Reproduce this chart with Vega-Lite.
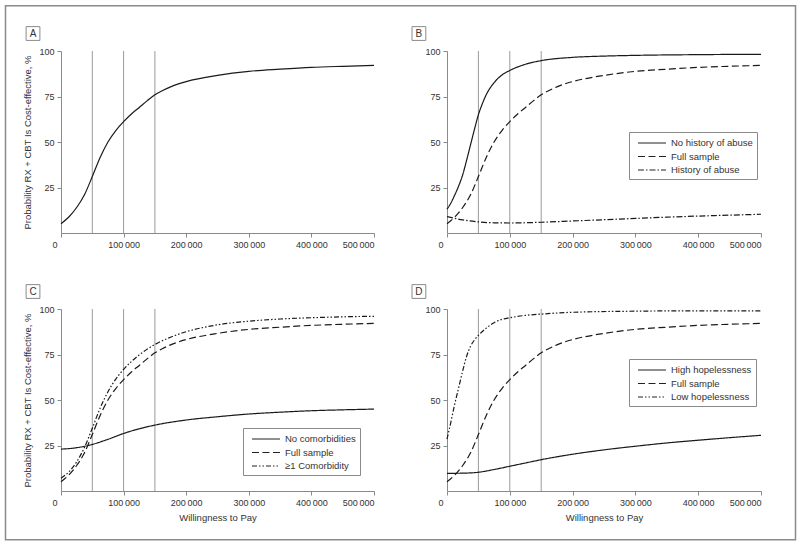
{
  "$schema": "https://vega.github.io/schema/vega-lite/v6.json",
  "padding": {"left": 4, "top": 4, "right": 0, "bottom": 0},
  "background": "white",
  "columns": 2,
  "bounds": "flush",
  "spacing": {"row": 76, "column": 73},
  "resolve": {"scale": {"strokeDash": "independent"}, "legend": {"strokeDash": "independent"}},
  "config": {
    "font": "Liberation Sans",
    "view": {"stroke": null},
    "axis": {"domainColor": "#8a8a8a", "tickColor": "#8a8a8a", "labelColor": "#333333", "labelFontSize": 9, "titleFontSize": 9.5, "titleFontWeight": "normal", "titleColor": "#333333", "grid": false, "tickSize": 4, "labelPadding": 3},
    "axisY": {"titlePadding": 6},
    "axisX": {"titlePadding": 5},
    "legend": {"strokeColor": "#8a8a8a", "fillColor": "white", "padding": 4, "labelFontSize": 9.5, "labelColor": "#333333", "symbolType": "M-3.67,0H1", "symbolStrokeColor": "#222222", "symbolSize": 144, "symbolStrokeWidth": 1.2, "rowPadding": 1.5, "labelOffset": 4, "symbolOffset": 20}
  },
  "datasets": {
    "refs": [{"x": 50000}, {"x": 100000}, {"x": 150000}],
    "full": [
      {"series": "Full sample", "x": 0, "p": 5.1},
      {"series": "Full sample", "x": 12500, "p": 8.8},
      {"series": "Full sample", "x": 25000, "p": 14.0},
      {"series": "Full sample", "x": 37500, "p": 21.0},
      {"series": "Full sample", "x": 50000, "p": 31.0},
      {"series": "Full sample", "x": 62500, "p": 41.5},
      {"series": "Full sample", "x": 75000, "p": 50.0},
      {"series": "Full sample", "x": 87500, "p": 56.3},
      {"series": "Full sample", "x": 100000, "p": 61.2},
      {"series": "Full sample", "x": 112500, "p": 65.4},
      {"series": "Full sample", "x": 125000, "p": 69.0},
      {"series": "Full sample", "x": 137500, "p": 72.6},
      {"series": "Full sample", "x": 150000, "p": 75.9},
      {"series": "Full sample", "x": 162500, "p": 78.3},
      {"series": "Full sample", "x": 175000, "p": 80.3},
      {"series": "Full sample", "x": 187500, "p": 81.9},
      {"series": "Full sample", "x": 200000, "p": 83.2},
      {"series": "Full sample", "x": 250000, "p": 86.6},
      {"series": "Full sample", "x": 300000, "p": 88.8},
      {"series": "Full sample", "x": 350000, "p": 90.0},
      {"series": "Full sample", "x": 400000, "p": 91.0},
      {"series": "Full sample", "x": 450000, "p": 91.6},
      {"series": "Full sample", "x": 500000, "p": 92.1}
    ],
    "sub": [
      {"panel": "B", "series": "No history of abuse", "x": 0, "p": 13.1},
      {"panel": "B", "series": "No history of abuse", "x": 6250, "p": 16.5},
      {"panel": "B", "series": "No history of abuse", "x": 12500, "p": 21.0},
      {"panel": "B", "series": "No history of abuse", "x": 18750, "p": 26.0},
      {"panel": "B", "series": "No history of abuse", "x": 25000, "p": 32.0},
      {"panel": "B", "series": "No history of abuse", "x": 31250, "p": 40.0},
      {"panel": "B", "series": "No history of abuse", "x": 37500, "p": 48.5},
      {"panel": "B", "series": "No history of abuse", "x": 43750, "p": 57.0},
      {"panel": "B", "series": "No history of abuse", "x": 50000, "p": 65.0},
      {"panel": "B", "series": "No history of abuse", "x": 56250, "p": 71.0},
      {"panel": "B", "series": "No history of abuse", "x": 62500, "p": 76.0},
      {"panel": "B", "series": "No history of abuse", "x": 75000, "p": 82.6},
      {"panel": "B", "series": "No history of abuse", "x": 87500, "p": 86.8},
      {"panel": "B", "series": "No history of abuse", "x": 100000, "p": 89.3},
      {"panel": "B", "series": "No history of abuse", "x": 125000, "p": 92.7},
      {"panel": "B", "series": "No history of abuse", "x": 150000, "p": 94.7},
      {"panel": "B", "series": "No history of abuse", "x": 200000, "p": 96.5},
      {"panel": "B", "series": "No history of abuse", "x": 250000, "p": 97.2},
      {"panel": "B", "series": "No history of abuse", "x": 300000, "p": 97.6},
      {"panel": "B", "series": "No history of abuse", "x": 400000, "p": 98.0},
      {"panel": "B", "series": "No history of abuse", "x": 500000, "p": 98.2},
      {"panel": "B", "series": "History of abuse", "x": 0, "p": 9.0},
      {"panel": "B", "series": "History of abuse", "x": 25000, "p": 7.2},
      {"panel": "B", "series": "History of abuse", "x": 50000, "p": 6.1},
      {"panel": "B", "series": "History of abuse", "x": 75000, "p": 5.6},
      {"panel": "B", "series": "History of abuse", "x": 100000, "p": 5.5},
      {"panel": "B", "series": "History of abuse", "x": 150000, "p": 5.9},
      {"panel": "B", "series": "History of abuse", "x": 200000, "p": 6.6},
      {"panel": "B", "series": "History of abuse", "x": 250000, "p": 7.3},
      {"panel": "B", "series": "History of abuse", "x": 300000, "p": 8.0},
      {"panel": "B", "series": "History of abuse", "x": 350000, "p": 8.7},
      {"panel": "B", "series": "History of abuse", "x": 400000, "p": 9.3},
      {"panel": "B", "series": "History of abuse", "x": 450000, "p": 9.8},
      {"panel": "B", "series": "History of abuse", "x": 500000, "p": 10.3},
      {"panel": "C", "series": "No comorbidities", "x": 0, "p": 23.0},
      {"panel": "C", "series": "No comorbidities", "x": 25000, "p": 23.8},
      {"panel": "C", "series": "No comorbidities", "x": 50000, "p": 25.6},
      {"panel": "C", "series": "No comorbidities", "x": 75000, "p": 28.4},
      {"panel": "C", "series": "No comorbidities", "x": 100000, "p": 31.6},
      {"panel": "C", "series": "No comorbidities", "x": 125000, "p": 34.2},
      {"panel": "C", "series": "No comorbidities", "x": 150000, "p": 36.2},
      {"panel": "C", "series": "No comorbidities", "x": 200000, "p": 39.0},
      {"panel": "C", "series": "No comorbidities", "x": 250000, "p": 40.8},
      {"panel": "C", "series": "No comorbidities", "x": 300000, "p": 42.3},
      {"panel": "C", "series": "No comorbidities", "x": 350000, "p": 43.3},
      {"panel": "C", "series": "No comorbidities", "x": 400000, "p": 44.1},
      {"panel": "C", "series": "No comorbidities", "x": 450000, "p": 44.6},
      {"panel": "C", "series": "No comorbidities", "x": 500000, "p": 45.0},
      {"panel": "C", "series": "≥1 Comorbidity", "x": 0, "p": 7.0},
      {"panel": "C", "series": "≥1 Comorbidity", "x": 12500, "p": 10.5},
      {"panel": "C", "series": "≥1 Comorbidity", "x": 25000, "p": 16.0},
      {"panel": "C", "series": "≥1 Comorbidity", "x": 37500, "p": 24.0},
      {"panel": "C", "series": "≥1 Comorbidity", "x": 50000, "p": 34.5},
      {"panel": "C", "series": "≥1 Comorbidity", "x": 62500, "p": 45.5},
      {"panel": "C", "series": "≥1 Comorbidity", "x": 75000, "p": 54.5},
      {"panel": "C", "series": "≥1 Comorbidity", "x": 87500, "p": 61.5},
      {"panel": "C", "series": "≥1 Comorbidity", "x": 100000, "p": 66.8},
      {"panel": "C", "series": "≥1 Comorbidity", "x": 125000, "p": 74.8},
      {"panel": "C", "series": "≥1 Comorbidity", "x": 150000, "p": 80.5},
      {"panel": "C", "series": "≥1 Comorbidity", "x": 175000, "p": 84.5},
      {"panel": "C", "series": "≥1 Comorbidity", "x": 200000, "p": 87.5},
      {"panel": "C", "series": "≥1 Comorbidity", "x": 250000, "p": 91.3},
      {"panel": "C", "series": "≥1 Comorbidity", "x": 300000, "p": 93.3},
      {"panel": "C", "series": "≥1 Comorbidity", "x": 350000, "p": 94.5},
      {"panel": "C", "series": "≥1 Comorbidity", "x": 400000, "p": 95.2},
      {"panel": "C", "series": "≥1 Comorbidity", "x": 450000, "p": 95.7},
      {"panel": "C", "series": "≥1 Comorbidity", "x": 500000, "p": 96.0},
      {"panel": "D", "series": "High hopelessness", "x": 0, "p": 9.7},
      {"panel": "D", "series": "High hopelessness", "x": 25000, "p": 9.8},
      {"panel": "D", "series": "High hopelessness", "x": 50000, "p": 10.3},
      {"panel": "D", "series": "High hopelessness", "x": 75000, "p": 11.8},
      {"panel": "D", "series": "High hopelessness", "x": 100000, "p": 13.6},
      {"panel": "D", "series": "High hopelessness", "x": 125000, "p": 15.4},
      {"panel": "D", "series": "High hopelessness", "x": 150000, "p": 17.2},
      {"panel": "D", "series": "High hopelessness", "x": 200000, "p": 20.2},
      {"panel": "D", "series": "High hopelessness", "x": 250000, "p": 22.6},
      {"panel": "D", "series": "High hopelessness", "x": 300000, "p": 24.6},
      {"panel": "D", "series": "High hopelessness", "x": 350000, "p": 26.4},
      {"panel": "D", "series": "High hopelessness", "x": 400000, "p": 27.9},
      {"panel": "D", "series": "High hopelessness", "x": 450000, "p": 29.3},
      {"panel": "D", "series": "High hopelessness", "x": 500000, "p": 30.6},
      {"panel": "D", "series": "Low hopelessness", "x": 0, "p": 28.5},
      {"panel": "D", "series": "Low hopelessness", "x": 6250, "p": 38.0},
      {"panel": "D", "series": "Low hopelessness", "x": 12500, "p": 48.0},
      {"panel": "D", "series": "Low hopelessness", "x": 18750, "p": 57.0},
      {"panel": "D", "series": "Low hopelessness", "x": 25000, "p": 66.0},
      {"panel": "D", "series": "Low hopelessness", "x": 31250, "p": 74.0},
      {"panel": "D", "series": "Low hopelessness", "x": 37500, "p": 79.5},
      {"panel": "D", "series": "Low hopelessness", "x": 43750, "p": 83.0},
      {"panel": "D", "series": "Low hopelessness", "x": 50000, "p": 85.5},
      {"panel": "D", "series": "Low hopelessness", "x": 62500, "p": 89.5},
      {"panel": "D", "series": "Low hopelessness", "x": 75000, "p": 92.5},
      {"panel": "D", "series": "Low hopelessness", "x": 87500, "p": 94.3},
      {"panel": "D", "series": "Low hopelessness", "x": 100000, "p": 95.2},
      {"panel": "D", "series": "Low hopelessness", "x": 125000, "p": 96.5},
      {"panel": "D", "series": "Low hopelessness", "x": 150000, "p": 97.2},
      {"panel": "D", "series": "Low hopelessness", "x": 200000, "p": 98.2},
      {"panel": "D", "series": "Low hopelessness", "x": 300000, "p": 98.8},
      {"panel": "D", "series": "Low hopelessness", "x": 400000, "p": 99.0},
      {"panel": "D", "series": "Low hopelessness", "x": 500000, "p": 99.0}
    ]
  },
  "concat": [
    {
      "width": 313, "height": 182,
      "layer": [
        {
          "data": {"name": "refs"},
          "mark": {"type": "rule", "color": "#9a9a9a", "strokeWidth": 1},
          "encoding": {"x": {"field": "x", "type": "quantitative", "scale": {"domain": [0, 500000], "nice": false, "zero": false}}}
        },
        {
          "data": {"name": "full"},
          "mark": {"type": "line", "color": "#1a1a1a", "strokeWidth": 1.2, "interpolate": "monotone"},
          "encoding": {
            "x": {"field": "x", "type": "quantitative", "scale": {"domain": [0, 500000], "nice": false, "zero": false},
                  "axis": {"values": [0, 100000, 200000, 300000, 400000, 500000], "title": null,
                           "labelExpr": "datum.value == 0 ? '0' : format(datum.value / 1000, 'd') + '\u2009000'",
                           "labelOffset": {"condition": {"test": "datum.value == 0", "value": -9}, "value": 0}}},
            "y": {"field": "p", "type": "quantitative", "scale": {"domain": [0, 100], "nice": false},
                  "axis": {"values": [25, 50, 75, 100], "title": "Probability RX + CBT Is Cost-effective, %"}}
          }
        },
        {
          "data": {"values": [{}]},
          "mark": {"type": "rect", "filled": false, "color": "#8a8a8a", "strokeWidth": 1.5, "clip": false},
          "encoding": {
            "x": {"datum": -88658, "type": "quantitative"},
            "x2": {"datum": 1173319},
            "y": {"datum": 124.9, "type": "quantitative"},
            "y2": {"datum": -168.5}
          }
        },
        {
          "data": {"values": [{}]},
          "mark": {"type": "point", "shape": "square", "size": 190, "filled": false, "color": "#8a8a8a", "strokeWidth": 1, "opacity": 1, "clip": false},
          "encoding": {"x": {"datum": -44730, "type": "quantitative"}, "y": {"datum": 109.6, "type": "quantitative"}}
        },
        {
          "data": {"values": [{}]},
          "mark": {"type": "text", "fontSize": 10, "color": "#333333", "clip": false},
          "encoding": {"x": {"datum": -44730, "type": "quantitative"}, "y": {"datum": 109.6, "type": "quantitative"}, "text": {"value": "A"}}
        }
      ]
    },
    {
      "width": 314, "height": 182,
      "layer": [
        {
          "data": {"name": "refs"},
          "mark": {"type": "rule", "color": "#9a9a9a", "strokeWidth": 1},
          "encoding": {"x": {"field": "x", "type": "quantitative", "scale": {"domain": [0, 500000], "nice": false, "zero": false}}}
        },
        {
          "data": {"name": "full"},
          "mark": {"type": "line", "color": "#1a1a1a", "strokeWidth": 1.2, "interpolate": "monotone"},
          "encoding": {
            "x": {"field": "x", "type": "quantitative", "scale": {"domain": [0, 500000], "nice": false, "zero": false},
                  "axis": {"values": [0, 100000, 200000, 300000, 400000, 500000], "title": null,
                           "labelExpr": "datum.value == 0 ? '0' : format(datum.value / 1000, 'd') + '\u2009000'",
                           "labelOffset": {"condition": {"test": "datum.value == 0", "value": -9}, "value": 0}}},
            "y": {"field": "p", "type": "quantitative", "scale": {"domain": [0, 100], "nice": false},
                  "axis": {"values": [25, 50, 75, 100], "title": null}},
            "strokeDash": {"field": "series", "type": "nominal",
                           "scale": {"domain": ["No history of abuse", "Full sample", "History of abuse"], "range": [[1, 0], [7, 3.5], [6, 2, 1.5, 2]]},
                           "legend": {"orient": "none", "legendX": 182, "legendY": 81, "title": null}}
          }
        },
        {
          "data": {"name": "sub"},
          "transform": [{"filter": "datum.panel == 'B'"}],
          "mark": {"type": "line", "color": "#1a1a1a", "strokeWidth": 1.2, "interpolate": "monotone"},
          "encoding": {
            "x": {"field": "x", "type": "quantitative"},
            "y": {"field": "p", "type": "quantitative"},
            "strokeDash": {"field": "series", "type": "nominal",
                           "scale": {"domain": ["No history of abuse", "Full sample", "History of abuse"], "range": [[1, 0], [7, 3.5], [6, 2, 1.5, 2]]},
                           "legend": {"orient": "none", "legendX": 182, "legendY": 81, "title": null}}
          }
        },
        {
          "data": {"values": [{}]},
          "mark": {"type": "point", "shape": "square", "size": 190, "filled": false, "color": "#8a8a8a", "strokeWidth": 1, "opacity": 1, "clip": false},
          "encoding": {"x": {"datum": -44730, "type": "quantitative"}, "y": {"datum": 109.6, "type": "quantitative"}}
        },
        {
          "data": {"values": [{}]},
          "mark": {"type": "text", "fontSize": 10, "color": "#333333", "clip": false},
          "encoding": {"x": {"datum": -44730, "type": "quantitative"}, "y": {"datum": 109.6, "type": "quantitative"}, "text": {"value": "B"}}
        }
      ]
    },
    {
      "width": 313, "height": 182,
      "layer": [
        {
          "data": {"name": "refs"},
          "mark": {"type": "rule", "color": "#9a9a9a", "strokeWidth": 1},
          "encoding": {"x": {"field": "x", "type": "quantitative", "scale": {"domain": [0, 500000], "nice": false, "zero": false}}}
        },
        {
          "data": {"name": "full"},
          "mark": {"type": "line", "color": "#1a1a1a", "strokeWidth": 1.2, "interpolate": "monotone"},
          "encoding": {
            "x": {"field": "x", "type": "quantitative", "scale": {"domain": [0, 500000], "nice": false, "zero": false},
                  "axis": {"values": [0, 100000, 200000, 300000, 400000, 500000], "title": "Willingness to Pay",
                           "labelExpr": "datum.value == 0 ? '0' : format(datum.value / 1000, 'd') + '\u2009000'",
                           "labelOffset": {"condition": {"test": "datum.value == 0", "value": -9}, "value": 0}}},
            "y": {"field": "p", "type": "quantitative", "scale": {"domain": [0, 100], "nice": false},
                  "axis": {"values": [25, 50, 75, 100], "title": "Probability RX + CBT Is Cost-effective, %"}},
            "strokeDash": {"field": "series", "type": "nominal",
                           "scale": {"domain": ["No comorbidities", "Full sample", "≥1 Comorbidity"], "range": [[1, 0], [7, 3.5], [5, 2, 1.5, 2, 1.5, 2]]},
                           "legend": {"orient": "none", "legendX": 182, "legendY": 119, "title": null}}
          }
        },
        {
          "data": {"name": "sub"},
          "transform": [{"filter": "datum.panel == 'C'"}],
          "mark": {"type": "line", "color": "#1a1a1a", "strokeWidth": 1.2, "interpolate": "monotone"},
          "encoding": {
            "x": {"field": "x", "type": "quantitative"},
            "y": {"field": "p", "type": "quantitative"},
            "strokeDash": {"field": "series", "type": "nominal",
                           "scale": {"domain": ["No comorbidities", "Full sample", "≥1 Comorbidity"], "range": [[1, 0], [7, 3.5], [5, 2, 1.5, 2, 1.5, 2]]},
                           "legend": {"orient": "none", "legendX": 182, "legendY": 119, "title": null}}
          }
        },
        {
          "data": {"values": [{}]},
          "mark": {"type": "point", "shape": "square", "size": 190, "filled": false, "color": "#8a8a8a", "strokeWidth": 1, "opacity": 1, "clip": false},
          "encoding": {"x": {"datum": -44730, "type": "quantitative"}, "y": {"datum": 109.6, "type": "quantitative"}}
        },
        {
          "data": {"values": [{}]},
          "mark": {"type": "text", "fontSize": 10, "color": "#333333", "clip": false},
          "encoding": {"x": {"datum": -44730, "type": "quantitative"}, "y": {"datum": 109.6, "type": "quantitative"}, "text": {"value": "C"}}
        }
      ]
    },
    {
      "width": 314, "height": 182,
      "layer": [
        {
          "data": {"name": "refs"},
          "mark": {"type": "rule", "color": "#9a9a9a", "strokeWidth": 1},
          "encoding": {"x": {"field": "x", "type": "quantitative", "scale": {"domain": [0, 500000], "nice": false, "zero": false}}}
        },
        {
          "data": {"name": "full"},
          "mark": {"type": "line", "color": "#1a1a1a", "strokeWidth": 1.2, "interpolate": "monotone"},
          "encoding": {
            "x": {"field": "x", "type": "quantitative", "scale": {"domain": [0, 500000], "nice": false, "zero": false},
                  "axis": {"values": [0, 100000, 200000, 300000, 400000, 500000], "title": "Willingness to Pay",
                           "labelExpr": "datum.value == 0 ? '0' : format(datum.value / 1000, 'd') + '\u2009000'",
                           "labelOffset": {"condition": {"test": "datum.value == 0", "value": -9}, "value": 0}}},
            "y": {"field": "p", "type": "quantitative", "scale": {"domain": [0, 100], "nice": false},
                  "axis": {"values": [25, 50, 75, 100], "title": null}},
            "strokeDash": {"field": "series", "type": "nominal",
                           "scale": {"domain": ["High hopelessness", "Full sample", "Low hopelessness"], "range": [[1, 0], [7, 3.5], [5, 2, 1.5, 2, 1.5, 2]]},
                           "legend": {"orient": "none", "legendX": 182, "legendY": 50, "title": null}}
          }
        },
        {
          "data": {"name": "sub"},
          "transform": [{"filter": "datum.panel == 'D'"}],
          "mark": {"type": "line", "color": "#1a1a1a", "strokeWidth": 1.2, "interpolate": "monotone"},
          "encoding": {
            "x": {"field": "x", "type": "quantitative"},
            "y": {"field": "p", "type": "quantitative"},
            "strokeDash": {"field": "series", "type": "nominal",
                           "scale": {"domain": ["High hopelessness", "Full sample", "Low hopelessness"], "range": [[1, 0], [7, 3.5], [5, 2, 1.5, 2, 1.5, 2]]},
                           "legend": {"orient": "none", "legendX": 182, "legendY": 50, "title": null}}
          }
        },
        {
          "data": {"values": [{}]},
          "mark": {"type": "point", "shape": "square", "size": 190, "filled": false, "color": "#8a8a8a", "strokeWidth": 1, "opacity": 1, "clip": false},
          "encoding": {"x": {"datum": -44730, "type": "quantitative"}, "y": {"datum": 109.6, "type": "quantitative"}}
        },
        {
          "data": {"values": [{}]},
          "mark": {"type": "text", "fontSize": 10, "color": "#333333", "clip": false},
          "encoding": {"x": {"datum": -44730, "type": "quantitative"}, "y": {"datum": 109.6, "type": "quantitative"}, "text": {"value": "D"}}
        }
      ]
    }
  ]
}
